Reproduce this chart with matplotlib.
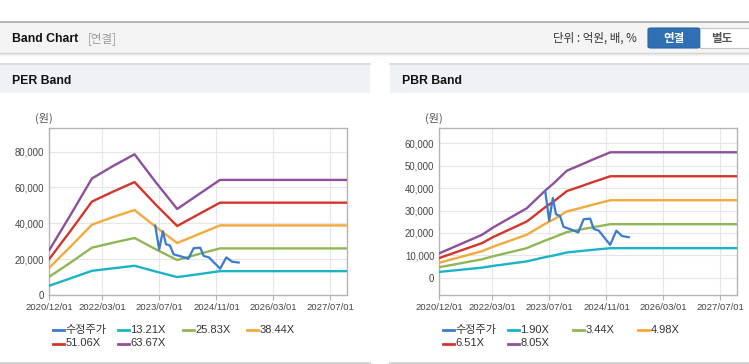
import matplotlib
matplotlib.use('Agg')
import matplotlib.pyplot as plt
from matplotlib.patches import Rectangle, FancyBboxPatch
from matplotlib.lines import Line2D
from matplotlib.ticker import FuncFormatter
import pandas as pd

plt.rcParams['font.family'] = ['Liberation Sans', 'Noto Sans CJK KR', 'DejaVu Sans']

W, H = 749, 364

# ---------------- data ----------------
price_label = '수정주가'
price_dates = ['2023-05-27', '2023-06-30', '2023-07-31', '2023-08-27', '2023-10-01',
               '2023-10-31', '2024-01-05', '2024-03-05', '2024-04-20', '2024-06-15',
               '2024-07-15', '2024-08-28', '2024-12-03', '2025-01-25', '2025-03-15',
               '2025-05-11']
price_values = [38700, 25400, 35600, 28400, 27500, 22700, 21500, 20200, 26100, 26400,
                21800, 21000, 14700, 21000, 18600, 18100]

per_dates = ['2020-12-01', '2021-06-01', '2021-12-01', '2022-06-01', '2022-12-01',
             '2023-06-01', '2023-12-01', '2024-06-01', '2024-12-01', '2027-11-25']
per_labels = ['13.21X', '25.83X', '38.44X', '51.06X', '63.67X']
per_13_21 = [5200, 9300, 13500, 14900, 16300, 13100, 10000, 11600, 13300, 13300]
per_25_83 = [10200, 18100, 26400, 29200, 31800, 25500, 19500, 22800, 26000, 26000]
per_38_44 = [15200, 27000, 39200, 43500, 47400, 38000, 29000, 33900, 38800, 38800]
per_51_06 = [20100, 35800, 52100, 57700, 63000, 50400, 38500, 45000, 51500, 51500]
per_63_67 = [25100, 44700, 65000, 72000, 78500, 62900, 48000, 56100, 64200, 64200]

pbr_dates = ['2020-12-01', '2021-11-29', '2022-03-09', '2022-12-20', '2023-02-16',
             '2023-05-27', '2023-08-06', '2023-11-29', '2024-03-22', '2024-07-14',
             '2024-12-05', '2027-11-25']
pbr_labels = ['1.90X', '3.44X', '4.98X', '6.51X', '8.05X']
pbr_1_90 = [2600, 4500, 5300, 7300, 8000, 9200, 9900, 11300, 11900, 12500, 13200, 13200]
pbr_3_44 = [4700, 8200, 9600, 13200, 14500, 16600, 18000, 20400, 21500, 22600, 23900, 23900]
pbr_4_98 = [6700, 11800, 13900, 19200, 21000, 24100, 26000, 29600, 31100, 32700, 34600, 34600]
pbr_6_51 = [8800, 15400, 18200, 25100, 27400, 31500, 34000, 38700, 40700, 42800, 45300, 45300]
pbr_8_05 = [10900, 19100, 22500, 31000, 33900, 38900, 42100, 47800, 50300, 52900, 56000, 56000]

x_tick_dates = ['2020-12-01', '2022-03-01', '2023-07-01', '2024-11-01', '2026-03-01', '2027-07-01']
x_tick_labels = ['2020/12/01', '2022/03/01', '2023/07/01', '2024/11/01', '2026/03/01', '2027/07/01']
per_yticks = [0, 20000, 40000, 60000, 80000]
pbr_yticks = [0, 10000, 20000, 30000, 40000, 50000, 60000]

# ---------------- style ----------------
c_price = '#3a7bd0'
band_colors = ['#1bb3c6', '#8fb755', '#f4a93c', '#d2352b', '#8e4f9c']


def fx(x):
    return x / W


def fy(y):
    return 1 - y / H


fig = plt.figure(figsize=(W / 100, H / 100), dpi=100)
fig.patch.set_facecolor('white')


def rect(x0, y0, x1, y1, fc, ec='none', lw=0, z=0):
    fig.add_artist(Rectangle((fx(x0), fy(y1)), fx(x1 - x0), (y1 - y0) / H,
                             facecolor=fc, edgecolor=ec, linewidth=lw,
                             transform=fig.transFigure, zorder=z))


def hline(x0, x1, y, color, lw=1.0, z=1):
    fig.add_artist(Line2D([fx(x0), fx(x1)], [fy(y), fy(y)], color=color, lw=lw,
                          transform=fig.transFigure, zorder=z))


# header band
rect(0, 22.5, 749, 52.5, '#f4f4f4')
hline(0, 749, 22.3, '#b5b5b5', 1.4)
hline(0, 749, 53, '#d2d2d2', 1.0)
hline(0, 749, 54.2, '#e6e6e6', 1.0)
hline(0, 749, 55.3, '#f3f3f3', 1.0)
fig.text(fx(11.5), fy(38.5), 'Band Chart', fontsize=8.8, fontweight='bold',
         color='#111111', va='center', ha='left')
fig.text(fx(88), fy(38.5), '[연결]', fontsize=8.3, color='#9a9a9a',
         va='center', ha='left', family=['Noto Sans CJK KR', 'DejaVu Sans'])
fig.text(fx(553), fy(38.5), '단위 : 억원, 배, %', fontsize=8.3, color='#333333',
         va='center', ha='left', family=['Noto Sans CJK KR', 'DejaVu Sans'])
fig.add_artist(FancyBboxPatch((fx(648), fy(48)), fx(52), 20 / H,
                              boxstyle='round,pad=0,rounding_size=0.004',
                              facecolor='#2f6fb4', edgecolor='#2a62a0', lw=0.8,
                              transform=fig.transFigure, zorder=2))
rect(700, 28, 749.5, 48, 'white', '#c4c4c4', 0.8, z=2)
fig.text(fx(674), fy(38.3), '연결', fontsize=8.3, fontweight='bold', color='white',
         va='center', ha='center', family=['Noto Sans CJK KR', 'DejaVu Sans'], zorder=3)
fig.text(fx(722), fy(38.3), '별도', fontsize=8.3, fontweight='bold', color='#555555',
         va='center', ha='center', family=['Noto Sans CJK KR', 'DejaVu Sans'], zorder=3)

# panel headers
for (x0, x1, title) in [(0, 370, 'PER Band'), (390, 749, 'PBR Band')]:
    rect(x0, 64.5, x1, 93, '#eef1f6')
    hline(x0, x1, 64.3, '#d6d6d6', 1.2)
    hline(x0, x1, 362.6, '#d3d3d3', 1.4)
    fig.text(fx(x0 + 11.5), fy(80.5), title, fontsize=8.8, fontweight='bold',
             color='#111111', va='center', ha='left')


def yfmt(v, pos):
    return f'{int(v):,}'


def make_panel(left_px, dates, bands, labels, yticks, ylim, legend_x):
    ax = fig.add_axes([fx(left_px), fy(295), 297.8 / W, (295 - 128.3) / H])
    ax.set_facecolor('white')
    d = pd.to_datetime(dates)
    for vals, col in zip(bands, band_colors):
        ax.plot(d, vals, color=col, lw=1.7, solid_joinstyle='round', zorder=3)
    ax.plot(pd.to_datetime(price_dates), price_values, color=c_price, lw=1.6,
            solid_joinstyle='round', zorder=4)
    ax.set_xlim(pd.Timestamp('2020-12-01'), pd.Timestamp('2027-11-25'))
    ax.set_ylim(*ylim)
    ax.set_xticks(pd.to_datetime(x_tick_dates))
    ax.set_xticklabels(x_tick_labels)
    ax.set_yticks(yticks)
    ax.yaxis.set_major_formatter(FuncFormatter(yfmt))
    ax.grid(True, color='#e6e6e6', lw=0.8, zorder=0)
    for s in ax.spines.values():
        s.set_color('#b4b4b4')
        s.set_linewidth(1.0)
    ax.tick_params(axis='x', length=3.5, width=0.8, color='#b4b4b4', pad=2.5,
                   labelsize=6.8, labelcolor='#444444')
    ax.tick_params(axis='y', length=0, pad=3.5, labelsize=6.9, labelcolor='#444444')
    # unit label
    fig.text(fx(left_px - 5.5), fy(118), '(원)', fontsize=8.0, color='#555555',
             ha='center', va='center', family=['Noto Sans CJK KR', 'DejaVu Sans'])
    # legend
    all_labels = [price_label] + labels
    all_colors = [c_price] + band_colors
    positions = [(legend_x[0], 330), (legend_x[1], 330), (legend_x[2], 330), (legend_x[3], 330),
                 (legend_x[0], 343.5), (legend_x[1], 343.5)]
    for (px, py), lab, col in zip(positions, all_labels, all_colors):
        fig.add_artist(Line2D([fx(px), fx(px + 10.5)], [fy(py), fy(py)], color=col, lw=2.0,
                              transform=fig.transFigure))
        fig.text(fx(px + 12.5), fy(py), lab, fontsize=8.0, color='#333333',
                 ha='left', va='center')
    return ax


make_panel(49.3, per_dates, [per_13_21, per_25_83, per_38_44, per_51_06, per_63_67],
           per_labels, per_yticks, (0, 93000), [53, 118, 183, 247])
make_panel(439.3, pbr_dates, [pbr_1_90, pbr_3_44, pbr_4_98, pbr_6_51, pbr_8_05],
           pbr_labels, pbr_yticks, (-7700, 66700), [443, 508, 573, 638])

fig.savefig('out.png', dpi=100, facecolor='white')
